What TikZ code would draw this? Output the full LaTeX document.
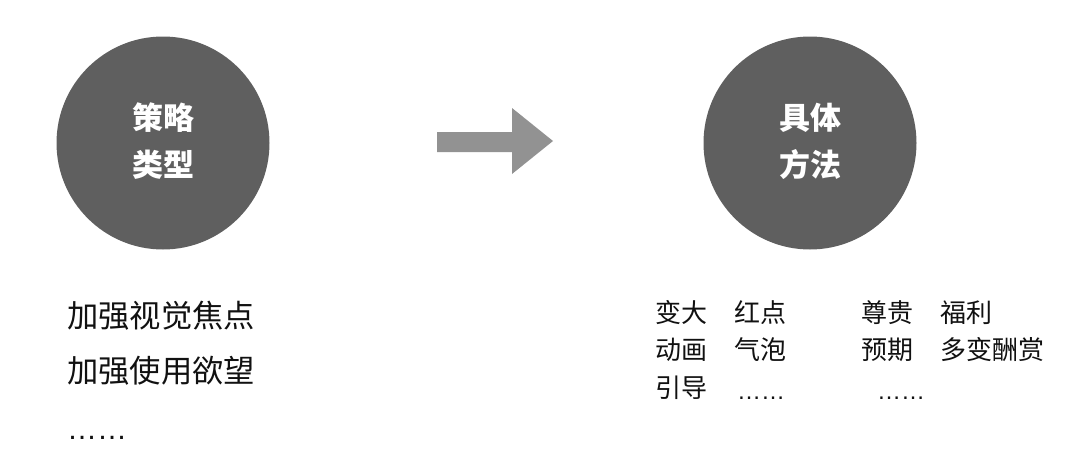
\documentclass[tikz,border=0pt]{standalone}
\usepackage{fontspec}
\setmainfont{Noto Sans CJK SC}
\newfontfamily\latinfont{Liberation Sans}
\definecolor{circlegray}{HTML}{5F5F5F}
\definecolor{arrowgray}{HTML}{929292}
\definecolor{textdark}{HTML}{111111}
\begin{document}
\begin{tikzpicture}[x=1pt,y=-1pt,
  bigcircle/.style={circle,fill=circlegray,minimum size=213pt,inner sep=0pt},
  circletext/.style={text=white,font=\fontsize{31}{31}\selectfont\bfseries,inner sep=0pt},
  lefttext/.style={anchor=base west,inner sep=0pt,text=textdark,font=\fontsize{31.3}{31.3}\selectfont},
  righttext/.style={anchor=base west,inner sep=0pt,text=textdark,font=\fontsize{26}{26}\selectfont},
  dotsl/.style={anchor=base west,inner sep=0pt,text=textdark,font=\latinfont\fontsize{30}{30}\selectfont},
  dotsr/.style={anchor=base west,inner sep=0pt,text=textdark,font=\latinfont\fontsize{24}{24}\selectfont}]
\useasboundingbox (0,0) rectangle (1080,463);
% circles
\node[bigcircle] (c1) at (163,143) {};
\node[bigcircle] (c2) at (810,143) {};
\node[circletext] (c1a) at (163,118) {策略};
\node[circletext] (c1b) at (163,165) {类型};
\node[circletext] (c2a) at (810,118) {具体};
\node[circletext] (c2b) at (810,165) {方法};
% arrow
\fill[arrowgray] (437,132) -- (512,132) -- (512,108) -- (553,141) -- (512,174) -- (512,152) -- (437,152) -- cycle;
% left texts
\node[lefttext] (l1) at (67,327) {加强视觉焦点};
\node[lefttext] (l2) at (67,382) {加强使用欲望};
\node[dotsl] (l3) at (67,439) {……};
% right texts
\node[righttext] (r11) at (655,322) {变大};
\node[righttext] (r12) at (734,322) {红点};
\node[righttext] (r13) at (861,322) {尊贵};
\node[righttext] (r14) at (940,322) {福利};
\node[righttext] (r21) at (655,359) {动画};
\node[righttext] (r22) at (734,359) {气泡};
\node[righttext] (r23) at (861,359) {预期};
\node[righttext] (r24) at (940,359) {多变酬赏};
\node[righttext] (r31) at (655,397) {引导};
\node[dotsr] (r32) at (737,399) {……};
\node[dotsr] (r33) at (877,399) {……};
\end{tikzpicture}
\end{document}
